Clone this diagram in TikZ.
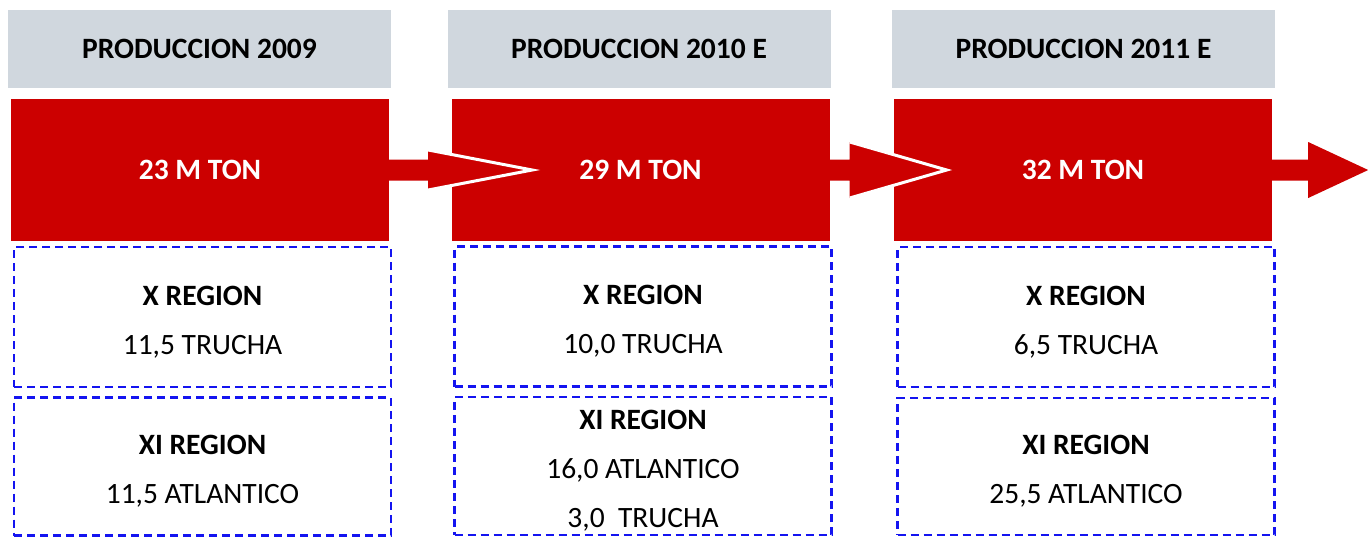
\documentclass[tikz,border=0pt]{standalone}
\usepackage{fontspec}
\setmainfont{Carlito}
\usepackage{tikz}
\usetikzlibrary{calc}
\definecolor{headgray}{HTML}{D0D7DE}
\definecolor{tonred}{HTML}{CC0000}
\definecolor{regionblue}{HTML}{1414F0}
\newcommand{\regtop}{\rule{0pt}{29.5pt}}

\begin{document}
\begin{tikzpicture}[
    x=1pt, y=-1pt,
    head/.style={fill=headgray, minimum width=383pt, minimum height=78pt, inner sep=0pt, font=\bfseries\fontsize{29.5}{36}\selectfont},
    total/.style={fill=tonred, text=white, minimum width=378pt, minimum height=142pt, inner sep=0pt, font=\bfseries\fontsize{29.5}{36}\selectfont},
    region/.style={draw=regionblue, line width=2.5pt, dash pattern=on 8pt off 5pt, minimum width=377pt, inner sep=0pt, align=center,
      font=\fontsize{29.5}{49}\selectfont},
    flow/.style={fill=tonred},
    cut/.style={draw=white, line width=3pt}
  ]
  \useasboundingbox (0,0) rectangle (1368,538);

  % headers
  \node[head] (h1) at (199.5,49) {PRODUCCION 2009};
  \node[head] (h2) at (639,49) {PRODUCCION 2010 E};
  \node[head] (h3) at (1083.5,49) {PRODUCCION 2011 E};

  % totals
  \node[total] (r1) at (200,170) {23 M TON};
  \node[total] (r2) at (640.5,170) {29 M TON};
  \node[total] (r3) at (1083,170) {32 M TON};

  % regions
  \node[region, minimum height=140pt] (x1) at (202.5,317) {\regtop\textbf{X REGION}\\11,5 TRUCHA};
  \node[region, minimum height=138pt] (xi1) at (202.5,466.5) {\regtop\textbf{XI REGION}\\11,5 ATLANTICO};
  \node[region, minimum height=140pt] (x2) at (643,316.5) {\regtop\textbf{X REGION}\\10,0 TRUCHA};
  \node[region, minimum height=138pt] (xi2) at (643,466) {\regtop\textbf{XI REGION}\\16,0 ATLANTICO\\3,0\ \ TRUCHA};
  \node[region, minimum height=140pt] (x3) at (1086,317) {\regtop\textbf{X REGION}\\6,5 TRUCHA};
  \node[region, minimum height=137pt] (xi3) at (1086,466.5) {\regtop\textbf{XI REGION}\\25,5 ATLANTICO};

  % arrows between the years
  \coordinate (tip1) at ($(r1.east)+(143,0)$);
  \coordinate (tip2) at ($(r2.east)+(117,0)$);
  \coordinate (tip3) at ($(r3.east)+(96,0)$);

  \fill[flow] ($(r1.east)+(0,-10.5)$) -- ($(r1.east)+(39,-10.5)$) -- ($(r1.east)+(39,-20)$) -- (tip1)
    -- ($(r1.east)+(39,20)$) -- ($(r1.east)+(39,10.5)$) -- ($(r1.east)+(0,10.5)$) -- cycle;
  \draw[cut] ($(r1.east)+(39,-20)$) -- (tip1) -- ($(r1.east)+(39,20)$);

  \fill[flow] ($(r2.east)+(0,-10.5)$) -- ($(r2.east)+(20,-10.5)$) -- ($(r2.east)+(20,-28)$) -- (tip2)
    -- ($(r2.east)+(20,28)$) -- ($(r2.east)+(20,10.5)$) -- ($(r2.east)+(0,10.5)$) -- cycle;
  \draw[cut] ($(r2.east)+(20,-28)$) -- (tip2) -- ($(r2.east)+(20,28)$);

  \fill[flow] ($(r3.east)+(0,-10.5)$) -- ($(r3.east)+(36,-10.5)$) -- ($(r3.east)+(36,-28)$) -- (tip3)
    -- ($(r3.east)+(36,28)$) -- ($(r3.east)+(36,10.5)$) -- ($(r3.east)+(0,10.5)$) -- cycle;
\end{tikzpicture}
\end{document}
